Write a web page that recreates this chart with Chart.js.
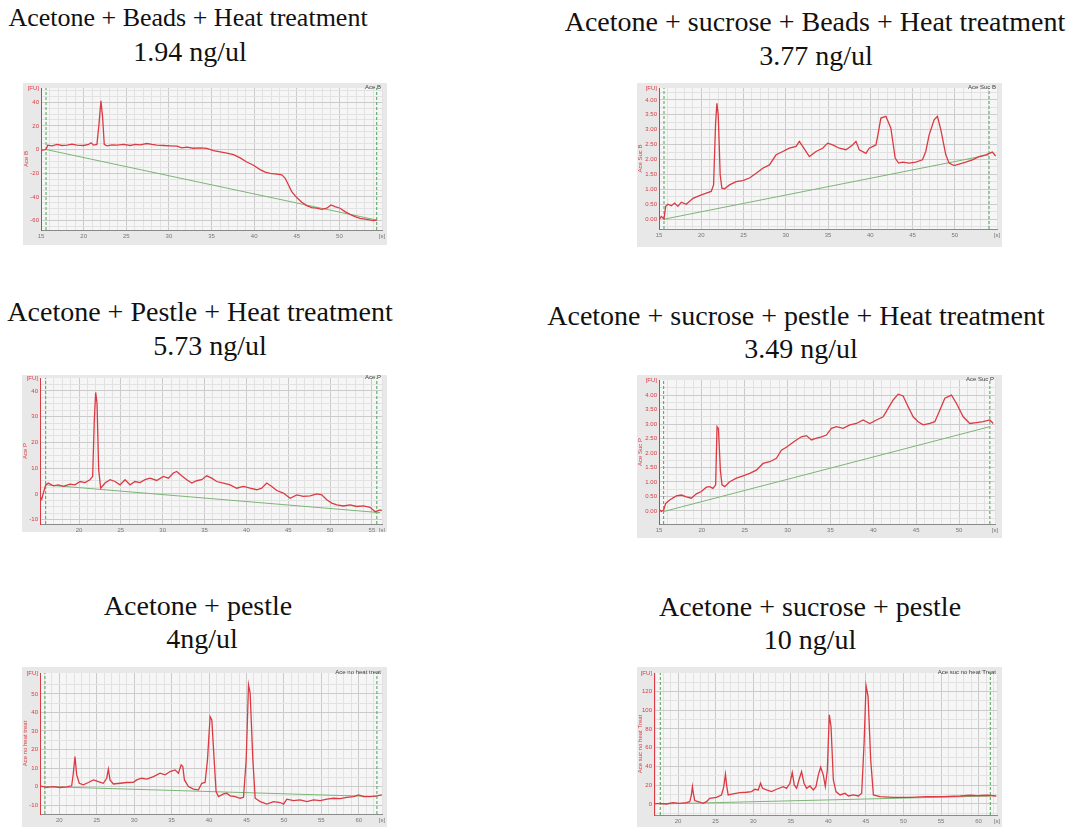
<!DOCTYPE html>
<html>
<head>
<meta charset="utf-8">
<script src="https://cdn.jsdelivr.net/npm/chart.js@4.4.0/dist/chart.umd.min.js"></script>
<style>
  html, body { margin: 0; padding: 0; background: #fff; }
  body { width: 1069px; height: 828px; position: relative; overflow: hidden; }
  .title { position: absolute; font-family: 'Liberation Serif', 'Times New Roman', serif; font-size: 28px; line-height: 34px; color: #111; white-space: nowrap; transform: translateX(-50%); }
  .panel { position: absolute; background: #e8e8e8; }
  .panel canvas { position: absolute; left: 0; top: 0; }
  .tag { position: absolute; font: 6px 'Liberation Sans', sans-serif; color: #444; white-space: nowrap; }
</style>
</head>
<body>

<div class="title" style="left:188px; top:1px; font-size:26px;">Acetone + Beads + Heat treatment</div>
<div class="title" style="left:190px; top:35px;">1.94 ng/ul</div>
<div class="title" style="left:815px; top:5px;">Acetone + sucrose + Beads + Heat treatment</div>
<div class="title" style="left:816px; top:39px;">3.77 ng/ul</div>
<div class="title" style="left:200px; top:295px;">Acetone + Pestle + Heat treatment</div>
<div class="title" style="left:210px; top:329px;">5.73 ng/ul</div>
<div class="title" style="left:796px; top:299px;">Acetone + sucrose + pestle + Heat treatment</div>
<div class="title" style="left:801px; top:332px;">3.49 ng/ul</div>
<div class="title" style="left:198px; top:589px;">Acetone + pestle</div>
<div class="title" style="left:202px; top:622px;">4ng/ul</div>
<div class="title" style="left:810px; top:590px;">Acetone + sucrose + pestle</div>
<div class="title" style="left:810px; top:623px;">10 ng/ul</div>

<div class="panel" id="c1"><canvas></canvas><span class="tag">Ace B</span></div>
<div class="panel" id="c2"><canvas></canvas><span class="tag">Ace Suc B</span></div>
<div class="panel" id="c3"><canvas></canvas><span class="tag">Ace P</span></div>
<div class="panel" id="c4"><canvas></canvas><span class="tag">Ace Suc P</span></div>
<div class="panel" id="c5"><canvas></canvas><span class="tag">Ace no heat treat</span></div>
<div class="panel" id="c6"><canvas></canvas><span class="tag">Ace suc no heat Treat</span></div>

<script>
// --- Panel 1: Acetone + Beads + Heat treatment ---
const p1Time = [15.0, 15.31, 15.59, 15.78, 16.29, 16.88, 17.46, 18.05, 18.63, 19.22, 20.0, 20.59, 20.86, 21.17, 21.56, 21.8, 22.03, 22.23, 22.42, 22.73, 23.32, 23.91, 24.69, 25.47, 26.05, 26.64, 27.42, 28.01, 28.59, 29.38, 30.16, 30.94, 31.52, 32.11, 32.89, 33.67, 34.45, 35.23, 36.02, 36.8, 37.58, 38.36, 39.14, 39.92, 40.7, 41.29, 41.88, 42.66, 43.24, 43.63, 44.02, 44.41, 45.0, 45.59, 46.17, 46.76, 47.34, 47.93, 48.52, 49.02, 49.49, 50.08, 50.66, 51.25, 51.84, 52.42, 53.2, 53.98, 54.4];
const p1Signal = [-0.9, -0.3, 0, 3.7, 3.1, 4.3, 3.4, 3.7, 4.5, 3.7, 3.4, 4.3, 5.7, 3.7, 4.3, 21.3, 41.1, 27, 4.3, 3.1, 4.0, 3.7, 4.3, 3.4, 4.3, 4.0, 5.1, 4.3, 3.7, 3.4, 3.1, 2.8, 1.4, 2.0, 1.1, 1.4, 0.9, -0.9, -2.0, -3.1, -4.3, -7.1, -10.5, -13.3, -17.0, -19.0, -20.1, -20.7, -21.3, -24.1, -29.8, -35.5, -40.6, -44.5, -47.4, -49.1, -49.6, -50.5, -49.6, -46.8, -48.2, -49.6, -52.5, -54.8, -56.7, -58.2, -59.0, -60.1, -59.6];
const p1BaseTime = [15.59, 54.38];
const p1BaseSignal = [0, -59.6];
const p1Markers = [15.59, 54.38];
const p1XLabels = [15, 20, 25, 30, 35, 40, 45, 50];
const p1YLabels = [-60, -40, -20, 0, 20, 40];

// --- Panel 2: Acetone + sucrose + Beads + Heat treatment ---
const p2Time = [15.0, 15.28, 15.59, 15.79, 16.06, 16.46, 16.85, 17.24, 17.64, 18.23, 19.02, 19.8, 20.59, 21.18, 21.46, 21.69, 21.85, 22.01, 22.24, 22.44, 22.76, 23.35, 24.13, 24.92, 25.71, 26.5, 27.28, 28.07, 28.86, 29.65, 30.43, 31.22, 31.61, 32.0, 32.8, 33.58, 34.37, 34.96, 35.55, 36.34, 37.13, 37.91, 38.31, 38.7, 39.49, 39.88, 40.67, 40.87, 41.26, 41.85, 42.44, 42.95, 43.35, 43.82, 44.6, 45.39, 46.18, 46.57, 46.97, 47.56, 47.95, 48.35, 48.94, 49.33, 49.92, 50.51, 51.3, 52.09, 52.87, 53.66, 54.45, 54.84];
const p2Signal = [-0.02, 0.09, 0.01, 0.43, 0.5, 0.45, 0.54, 0.43, 0.57, 0.5, 0.7, 0.79, 0.87, 0.93, 1.15, 3.17, 3.89, 3.5, 1.49, 1.04, 1.02, 1.15, 1.26, 1.29, 1.38, 1.54, 1.71, 1.82, 2.16, 2.27, 2.38, 2.44, 2.61, 2.44, 2.1, 2.27, 2.38, 2.55, 2.49, 2.38, 2.33, 2.49, 2.61, 2.33, 2.21, 2.38, 2.49, 2.77, 3.39, 3.45, 3.05, 2.05, 1.88, 1.91, 1.88, 1.91, 1.99, 2.27, 2.83, 3.33, 3.45, 3.0, 2.16, 1.88, 1.8, 1.85, 1.91, 1.99, 2.1, 2.16, 2.25, 2.12];
const p2BaseTime = [15.59, 54.06];
const p2BaseSignal = [0, 2.16];
const p2Markers = [15.59, 54.06];
const p2XLabels = [15, 20, 25, 30, 35, 40, 45, 50];
const p2YLabels = [0, 0.5, 1, 1.5, 2, 2.5, 3, 3.5, 4];

// --- Panel 3: Acetone + Pestle + Heat treatment ---
const p3Time = [15.34, 15.54, 15.74, 16.02, 16.33, 16.93, 17.53, 18.13, 18.92, 19.52, 20.12, 20.72, 21.31, 21.63, 21.83, 21.99, 22.15, 22.35, 22.59, 23.11, 23.71, 24.3, 24.9, 25.5, 26.1, 26.69, 27.29, 27.89, 28.49, 29.28, 30.08, 30.68, 31.27, 31.67, 32.27, 32.87, 33.47, 34.06, 34.66, 35.26, 35.86, 36.45, 37.25, 38.05, 38.84, 39.64, 40.44, 41.24, 41.83, 42.43, 43.03, 43.63, 44.42, 45.22, 46.02, 46.81, 47.61, 48.41, 49.0, 49.6, 50.2, 50.8, 51.59, 52.39, 53.19, 53.98, 54.78, 55.38, 55.98, 56.18];
const p3Signal = [-1.0, -2.1, 0.3, 3.5, 4.2, 3.1, 3.5, 2.9, 3.8, 3.5, 4.8, 4.4, 5.5, 6.8, 28.8, 39.4, 35.3, 9.4, 2.2, 4.2, 5.5, 4.8, 3.5, 5.5, 3.5, 4.8, 4.4, 5.5, 6.1, 5.2, 6.8, 6.1, 8.1, 8.7, 7.0, 5.5, 4.2, 5.1, 5.5, 7.0, 6.1, 4.8, 4.2, 3.5, 2.2, 2.9, 2.2, 1.6, 2.2, 4.2, 2.9, 1.3, 0.3, -1.7, -0.4, -1.0, -0.8, 0, -0.4, -2.3, -3.6, -4.3, -4.7, -4.3, -4.9, -4.7, -5.2, -6.9, -6.2, -6.5];
const p3BaseTime = [16.02, 55.98];
const p3BaseSignal = [3.5, -7.3];
const p3Markers = [16.02, 55.58];
const p3XLabels = [20, 25, 30, 35, 40, 45, 50, 55];
const p3YLabels = [-10, 0, 10, 20, 30, 40];

// --- Panel 4: Acetone + sucrose + pestle + Heat treatment ---
const p4Time = [15, 15.27, 15.54, 15.78, 16.25, 17.02, 17.61, 18.19, 18.77, 19.36, 19.94, 20.53, 20.91, 21.3, 21.61, 21.77, 21.93, 22.16, 22.35, 22.67, 23.25, 24.03, 24.81, 25.58, 26.36, 27.14, 27.92, 28.7, 29.28, 29.86, 30.45, 31.03, 31.61, 32.2, 32.78, 33.37, 33.95, 34.53, 35.12, 35.7, 36.48, 37.26, 38.04, 38.81, 39.59, 40.37, 41.15, 41.73, 42.32, 42.9, 43.48, 44.07, 44.65, 45.23, 45.82, 46.6, 47.18, 47.76, 48.35, 49.12, 49.71, 50.49, 51.26, 52.04, 52.82, 53.6, 53.99];
const p4Signal = [0.06, -0.02, 0.03, 0.26, 0.38, 0.52, 0.55, 0.49, 0.44, 0.59, 0.67, 0.82, 0.84, 0.78, 0.9, 2.91, 2.85, 1.41, 0.9, 0.84, 1.01, 1.13, 1.21, 1.3, 1.41, 1.64, 1.7, 1.82, 2.1, 2.2, 2.33, 2.45, 2.56, 2.6, 2.45, 2.51, 2.56, 2.62, 2.85, 2.91, 2.85, 2.97, 3.02, 3.14, 3.02, 3.14, 3.25, 3.54, 3.83, 4.03, 3.97, 3.6, 3.25, 3.08, 2.97, 3.02, 3.08, 3.48, 3.89, 4.0, 3.71, 3.25, 3.02, 3.05, 3.08, 3.14, 3.02];
const p4BaseTime = [15.54, 53.6];
const p4BaseSignal = [-0.02, 2.91];
const p4Markers = [15.54, 53.6];
const p4XLabels = [15, 20, 25, 30, 35, 40, 45, 50];
const p4YLabels = [0, 0.5, 1, 1.5, 2, 2.5, 3, 3.5, 4];

// --- Panel 5: Acetone + pestle ---
const p5Time = [17.42, 18.31, 19.2, 20.09, 20.98, 21.65, 21.87, 22.09, 22.32, 22.67, 23.21, 23.88, 24.55, 25.21, 25.88, 26.33, 26.55, 26.77, 27.22, 28.11, 29.0, 29.89, 30.34, 31.0, 31.68, 32.57, 33.46, 34.13, 34.8, 35.46, 35.91, 36.27, 36.49, 36.71, 37.25, 37.91, 38.58, 39.03, 39.47, 39.79, 40.14, 40.37, 40.68, 40.94, 41.26, 41.93, 42.37, 42.82, 43.48, 44.15, 44.6, 44.96, 45.27, 45.49, 45.85, 46.16, 46.83, 47.72, 48.61, 49.5, 49.95, 50.39, 51.28, 52.17, 53.07, 53.96, 54.85, 55.74, 56.63, 57.52, 58.41, 59.3, 59.97, 60.64, 61.53, 62.42, 63.09];
const p5Signal = [0.4, -0.4, 0, -0.5, -0.2, 0.4, 7.2, 16.2, 6.3, 1.8, 0.9, 2.2, 3.6, 2.7, 1.8, 4.5, 9.4, 3.6, 1.4, 1.8, 2.2, 2.3, 3.6, 4.5, 4.0, 5.4, 7.2, 6.3, 8.1, 9.0, 7.2, 11.7, 10.8, 3.6, 0, -1.4, -1.8, 1.8, 2.2, 14.4, 37.8, 36.0, 14.4, -2.7, -5.4, -4.0, -3.6, -5.0, -5.4, -6.3, -5.8, 14.4, 55.0, 50.5, 14.4, -6.3, -8.1, -9.4, -8.1, -8.6, -9.5, -6.8, -7.6, -7.2, -8.1, -7.2, -7.6, -6.8, -6.3, -6.5, -5.8, -5.4, -4.5, -5.4, -5.4, -5.0, -4.5];
const p5BaseTime = [18.08, 62.42];
const p5BaseSignal = [0, -5.4];
const p5Markers = [18.08, 62.42];
const p5XLabels = [20, 25, 30, 35, 40, 45, 50, 55, 60];
const p5YLabels = [-10, 0, 10, 20, 30, 40, 50];

// --- Panel 6: Acetone + sucrose + pestle ---
const p6Time = [16.8, 17.56, 18.44, 19.33, 20.22, 21.11, 21.56, 21.78, 21.91, 22.04, 22.22, 22.67, 23.33, 23.78, 24.22, 25.11, 25.78, 26.09, 26.31, 26.49, 26.67, 27.33, 28.22, 29.11, 29.78, 30.22, 30.67, 30.98, 31.24, 31.78, 32.44, 33.11, 34.0, 34.44, 34.89, 35.2, 35.47, 35.78, 36.09, 36.44, 36.76, 37.11, 37.56, 38.0, 38.36, 38.67, 38.98, 39.33, 39.6, 39.87, 40.13, 40.36, 40.67, 41.02, 41.56, 42.22, 42.67, 43.33, 44.0, 44.44, 44.76, 45.02, 45.29, 45.64, 46.0, 46.89, 48.67, 50.89, 53.11, 55.33, 57.56, 58.89, 59.78, 61.11, 62.36];
const p6Signal = [0, 0.7, 0, 1.4, 0.7, 1.4, 2.5, 9.6, 18.5, 11.4, 3.6, 2.5, 0.7, 2.5, 6.1, 7.1, 9.6, 18.5, 31.7, 18.5, 9.6, 10.7, 12.1, 12.5, 13.2, 15.7, 15.0, 22.1, 16.7, 15.0, 13.2, 15.7, 18.5, 16.7, 22.1, 33.5, 20.3, 16.7, 25.6, 34.5, 22.1, 16.7, 19.2, 15.0, 18.5, 31.0, 39.2, 31.0, 18.5, 36.3, 95.1, 82.6, 25.6, 13.2, 9.6, 11.4, 8.5, 9.6, 8.5, 11.4, 64.8, 126.1, 114.7, 47.0, 9.6, 7.8, 7.1, 7.1, 7.8, 7.8, 8.5, 9.3, 8.9, 9.3, 8.5];
const p6BaseTime = [17.64, 61.56];
const p6BaseSignal = [0, 8.5];
const p6Markers = [17.64, 61.56];
const p6XLabels = [20, 25, 30, 35, 40, 45, 50, 55, 60];
const p6YLabels = [0, 20, 40, 60, 80, 100, 120];

// layout of each electropherogram: box = [left, top, width, height], area = [left, right, top, bottom] in page pixels
const panels = [
    { id: 'c1', time: p1Time, signal: p1Signal, baseTime: p1BaseTime, baseSignal: p1BaseSignal, markers: p1Markers,
      xMin: 15, xMax: 55, xLabels: p1XLabels, yMin: -68, yMax: 52, yLabels: p1YLabels, yMinor: 5, digits: 0,
      yTitle: 'Ace B', box: [23, 83, 364, 162], area: [41, 382, 88, 230] },
    { id: 'c2', time: p2Time, signal: p2Signal, baseTime: p2BaseTime, baseSignal: p2BaseSignal, markers: p2Markers,
      xMin: 15, xMax: 55, xLabels: p2XLabels, yMin: -0.33, yMax: 4.4, yLabels: p2YLabels, yMinor: 0.25, digits: 2,
      yTitle: 'Ace Suc B', box: [637, 83, 365, 164], area: [659, 997, 88, 229] },
    { id: 'c3', time: p3Time, signal: p3Signal, baseTime: p3BaseTime, baseSignal: p3BaseSignal, markers: p3Markers,
      xMin: 15.34, xMax: 56.2, xLabels: p3XLabels, yMin: -11.7, yMax: 45, yLabels: p3YLabels, yMinor: 2.5, digits: 0,
      yTitle: 'Ace P', box: [22, 375, 365, 157], area: [40, 382, 378, 524] },
    { id: 'c4', time: p4Time, signal: p4Signal, baseTime: p4BaseTime, baseSignal: p4BaseSignal, markers: p4Markers,
      xMin: 15, xMax: 54.2, xLabels: p4XLabels, yMin: -0.45, yMax: 4.52, yLabels: p4YLabels, yMinor: 0.25, digits: 2,
      yTitle: 'Ace Suc P', box: [637, 375, 365, 163], area: [659, 995, 380, 524] },
    { id: 'c5', time: p5Time, signal: p5Signal, baseTime: p5BaseTime, baseSignal: p5BaseSignal, markers: p5Markers,
      xMin: 17.42, xMax: 63.1, xLabels: p5XLabels, yMin: -14.8, yMax: 61.3, yLabels: p5YLabels, yMinor: 5, digits: 0,
      yTitle: 'Ace no heat treat', box: [22, 667, 365, 160], area: [40, 382, 673, 814] },
    { id: 'c6', time: p6Time, signal: p6Signal, baseTime: p6BaseTime, baseSignal: p6BaseSignal, markers: p6Markers,
      xMin: 16.8, xMax: 62.45, xLabels: p6XLabels, yMin: -11.75, yMax: 139.6, yLabels: p6YLabels, yMinor: 10, digits: 0,
      yTitle: 'Ace suc no heat Treat', box: [637, 667, 365, 160], area: [654, 997, 673, 815] }
];

const RED = '#dc3a42';
const near = (a, b) => Math.abs(a - b) < 1e-6;

function gridSteps(min, max, step) {
    const out = [];
    const first = Math.ceil(min / step - 1e-9) * step;
    for (let v = first; v <= max + 1e-9; v += step) out.push(Math.round(v * 1000) / 1000);
    if (out.length && max - out[out.length - 1] < step * 0.35) out.pop();
    out.push(max);
    return out;
}

// light plot area over the grey picture background
const plotBg = {
    id: 'plotBg',
    beforeDraw(chart) {
        const { ctx, chartArea: a } = chart;
        ctx.save();
        ctx.fillStyle = '#f6f6f6';
        ctx.fillRect(a.left, a.top, a.right - a.left, a.bottom - a.top);
        ctx.restore();
    }
};

function buildChart(p) {
    const [bx, by, bw, bh] = p.box;
    const [al, ar, at, ab] = p.area;
    const wrap = document.getElementById(p.id);
    wrap.style.left = bx + 'px';
    wrap.style.top = by + 'px';
    wrap.style.width = bw + 'px';
    wrap.style.height = bh + 'px';

    const tag = wrap.querySelector('.tag');
    tag.style.right = (bx + bw - ar + 1) + 'px';
    tag.style.top = (at - by - 4) + 'px';

    const canvas = wrap.querySelector('canvas');
    canvas.width = bw;
    canvas.height = bh;

    const yAxisW = al - bx;
    const xAxisH = by + bh - ab;

    const n = Math.min(p.time.length, p.signal.length);
    const trace = [];
    for (let i = 0; i < n; i++) trace.push({ x: p.time[i], y: p.signal[i] });
    const base = p.baseTime.map((t, i) => ({ x: t, y: p.baseSignal[i] }));
    const markerSets = p.markers.map(m => ({
        data: [{ x: m, y: p.yMin }, { x: m, y: p.yMax }],
        borderColor: '#4fa259', borderWidth: 1, borderDash: [3, 2], pointRadius: 0
    }));

    const isXMajor = v => p.xLabels.some(l => near(l, v));
    const isYMajor = v => p.yLabels.some(l => near(l, v));

    new Chart(canvas, {
        type: 'line',
        data: {
            datasets: [
                { data: trace, borderColor: RED, borderWidth: 1.3, pointRadius: 0, tension: 0 },
                { data: base, borderColor: '#7db577', borderWidth: 1, pointRadius: 0 },
                ...markerSets
            ]
        },
        options: {
            responsive: false,
            animation: false,
            events: [],
            layout: { padding: { left: 0, right: bx + bw - ar, top: at - by, bottom: 0 } },
            plugins: { legend: { display: false }, tooltip: { enabled: false } },
            scales: {
                x: {
                    type: 'linear', min: p.xMin, max: p.xMax,
                    afterBuildTicks: s => { s.ticks = gridSteps(p.xMin, p.xMax, 1).map(v => ({ value: v })); },
                    afterFit: s => { s.height = xAxisH; s.paddingLeft = 0; s.paddingRight = 0; },
                    ticks: {
                        autoSkip: false, maxRotation: 0, minRotation: 0, padding: 3,
                        color: '#777', font: { size: 6, family: 'Liberation Sans' },
                        callback: v => near(v, p.xMax) ? '[s]' : (isXMajor(v) ? String(v) : '')
                    },
                    grid: {
                        drawTicks: false,
                        color: c => (c.tick && isXMajor(c.tick.value)) ? '#cbcbcb' : '#e2e2e2'
                    },
                    border: { color: '#8a8a8a', width: 1 }
                },
                y: {
                    type: 'linear', min: p.yMin, max: p.yMax,
                    afterBuildTicks: s => { s.ticks = gridSteps(p.yMin, p.yMax, p.yMinor).map(v => ({ value: v })); },
                    afterFit: s => { s.width = yAxisW; s.paddingTop = 0; s.paddingBottom = 0; },
                    ticks: {
                        autoSkip: false, padding: 2,
                        color: RED, font: { size: 6, family: 'Liberation Sans' },
                        callback: v => near(v, p.yMax) ? '[FU]' : (isYMajor(v) ? v.toFixed(p.digits) : '')
                    },
                    grid: {
                        drawTicks: false,
                        color: c => {
                            if (!c.tick || near(c.tick.value, p.yMax)) return 'rgba(0,0,0,0)';
                            return isYMajor(c.tick.value) ? '#cbcbcb' : '#e2e2e2';
                        }
                    },
                    border: { color: RED, width: 1 },
                    title: {
                        display: true, text: p.yTitle, color: RED, padding: { top: 0, bottom: 1 },
                        font: { size: 6, family: 'Liberation Sans' }
                    }
                }
            }
        },
        plugins: [plotBg]
    });
}

panels.forEach(buildChart);
</script>
</body>
</html>
